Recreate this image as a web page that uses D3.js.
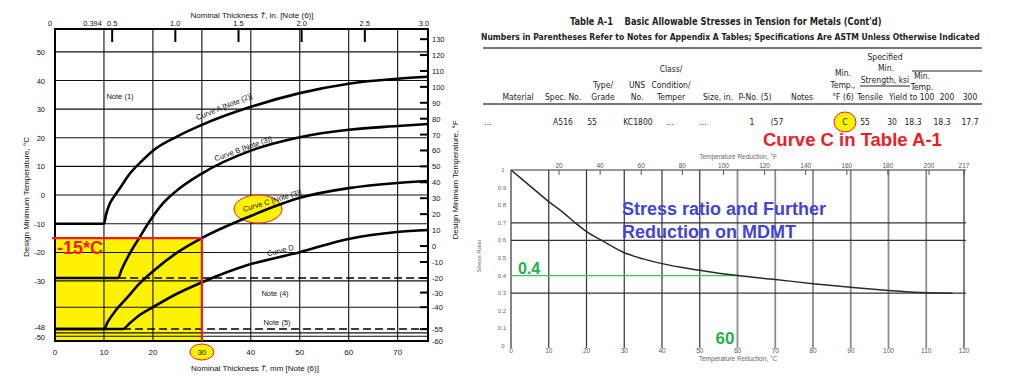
<!DOCTYPE html>
<html>
<head>
<meta charset="utf-8">
<script src="https://d3js.org/d3.v7.min.js"></script>
<style>
  body { margin: 0; background: #fff; }
  text { font-family: 'Liberation Sans', Arial, sans-serif; }
  .tbl { font-family: 'Liberation Sans Narrow', 'Arial Narrow', 'DejaVu Sans Condensed', 'Liberation Sans', sans-serif; fill: #222; }
</style>
</head>
<body>
<svg width=1024 height=378></svg>
<script>
var svg = d3.select('svg')

// ---------- left figure: thickness (mm) vs design min temperature (degC)
var mmTicks = [0, 10, 20, 30, 40, 50, 60, 70]
var inTicks = [0.5, 1.0, 1.5, 2.0, 2.5, 3.0]
var inLabels = ['0.5', '1.0', '1.5', '2.0', '2.5', '3.0']
var cTicks = [50, 40, 30, 20, 10, 0, -10, -20, -30, -48, -50]
var fTicks = [130, 120, 110, 100, 90, 80, 70, 60, 50, 40, 30, 20, 10, 0, -10, -20, -30, -40, -55, -60]
var gridC = [50, 40, 30, 20, 10, 0, -10, -20, -30, -40, -49.2, -50]
var gridMm = [10, 20, 30, 40, 50, 60, 70]

var curveA = [[0, -10], [10, -10], [10.4, -7], [11.2, -3], [12.3, 0], [13.5, 3], [15.3, 7.5], [17.5, 11.5], [20, 15.5], [25, 20.5], [30, 24.5], [40, 30.8], [50, 35.6], [60, 38.9], [70, 40.6], [76.2, 41.3]]
var curveB = [[0, -28.9], [12.9, -28.9], [13.6, -26], [15.3, -20.3], [17.3, -14.7], [19.4, -9], [22, -3], [24.5, 1], [30, 7.5], [40, 15.5], [50, 20.2], [60, 22.8], [70, 24.1], [76.2, 24.8]]
var curveC = [[0, -48.3], [10, -48.3], [10.8, -45.5], [12.5, -41], [14.7, -36.5], [17, -31.5], [20.4, -26], [25, -20], [30, -15], [40, -7.3], [50, -1], [60, 2.4], [70, 4.2], [76.2, 4.9]]
var curveD = [[0, -48.3], [13.9, -48.3], [15.2, -46.2], [17.3, -43], [20, -40], [25, -34.8], [30.2, -30.4], [39.2, -24.5], [50, -19.9], [60.2, -15.2], [69.8, -12.9], [76.2, -12.2]]
var dashB = [[12.9, -28.9], [76.2, -28.9]]
var dashD = [[13.9, -48.3], [76.2, -48.3]]
var markMm = 30, markC = -15

var xL = d3.scaleLinear().domain([0, 76.2]).range([55, 428])
var xIn = d3.scaleLinear().domain([0, 3]).range([49, 428])
var yL = d3.scaleLinear().domain([-51.1, -48.3, -28.9, 0, 58]).range([341, 329, 278, 195, 29])
function f2c(f) { return (f - 32) / 1.8 }

var L = svg.append('g')

  //yellow area below -15 C up to 30 mm
  L.append('rect')
    .attr('x', xL(0)).attr('y', yL(markC))
    .attr('width', xL(markMm) - xL(0)).attr('height', yL(-51.1) - yL(markC))
    .attr('fill', '#fff200')

  //grid
  L.selectAll('.gh').data(gridC).enter().append('line')
    .attr('x1', xL(0)).attr('x2', xL(76.2))
    .attr('y1', d => yL(d)).attr('y2', d => yL(d))
    .attr('stroke', '#111').attr('stroke-width', 1.1)
  L.selectAll('.gv').data(gridMm).enter().append('line')
    .attr('x1', d => xL(d)).attr('x2', d => xL(d))
    .attr('y1', yL(58)).attr('y2', yL(-51.1))
    .attr('stroke', '#111').attr('stroke-width', 1.1)

  //frame
  L.append('rect')
    .attr('x', xL(0)).attr('y', yL(58))
    .attr('width', xL(76.2) - xL(0)).attr('height', yL(-51.1) - yL(58))
    .attr('fill', 'none').attr('stroke', '#000').attr('stroke-width', 2)

  //inch ticks on top, F ticks on right
  L.selectAll('.it').data(inTicks.slice(0, 5)).enter().append('line')
    .attr('x1', d => xIn(d)).attr('x2', d => xIn(d))
    .attr('y1', yL(58)).attr('y2', yL(58) + 13)
    .attr('stroke', '#000').attr('stroke-width', 2)
  L.selectAll('.ft').data(fTicks).enter().append('line')
    .attr('x1', xL(76.2) - 8).attr('x2', xL(76.2))
    .attr('y1', d => yL(f2c(d))).attr('y2', d => yL(f2c(d)))
    .attr('stroke', '#000').attr('stroke-width', 2)

  //curve C highlight ellipse
  L.append('ellipse')
    .attr('cx', 258).attr('cy', 209).attr('rx', 24).attr('ry', 14)
    .attr('fill', '#fff200').attr('stroke', '#ee1c25').attr('stroke-width', 1)

  //curves
var lineL = d3.line().x(d => xL(d[0])).y(d => yL(d[1])).curve(d3.curveMonotoneX)
  L.selectAll('.crv').data([curveA, curveB, curveC, curveD]).enter().append('path')
    .attr('d', lineL).attr('fill', 'none')
    .attr('stroke', '#000').attr('stroke-width', 2.6)
  L.selectAll('.dsh').data([dashB, dashD]).enter().append('path')
    .attr('d', lineL).attr('fill', 'none')
    .attr('stroke', '#000').attr('stroke-width', 1.3).attr('stroke-dasharray', '8,4')

  //red marker lines
  L.append('line')
    .attr('x1', xL(0) - 3).attr('x2', xL(markMm))
    .attr('y1', yL(markC)).attr('y2', yL(markC))
    .attr('stroke', '#ee1c25').attr('stroke-width', 2.2)
  L.append('line')
    .attr('x1', xL(markMm)).attr('x2', xL(markMm))
    .attr('y1', yL(markC)).attr('y2', yL(-51.1))
    .attr('stroke', '#ee1c25').attr('stroke-width', 2.2)
  L.append('text')
    .attr('x', 57).attr('y', yL(markC) + 16)
    .attr('font-size', 18).attr('font-weight', 'bold').attr('fill', '#ee1c25')
    .text('-15*C')

  //ellipse around 30
  L.append('ellipse')
    .attr('cx', xL(markMm)).attr('cy', 352).attr('rx', 12).attr('ry', 8)
    .attr('fill', '#fff200').attr('stroke', '#ee1c25').attr('stroke-width', 1)

  //tick labels
  L.selectAll('.bl').data(mmTicks).enter().append('text')
    .attr('x', d => xL(d)).attr('y', 355)
    .attr('text-anchor', 'middle').attr('font-size', 8).attr('fill', '#111')
    .text(d => d)

  L.selectAll('.tl').data(inTicks).enter().append('text')
    .attr('x', d => xIn(d) - (d == 3 ? 4 : 0)).attr('y', 26)
    .attr('text-anchor', 'middle').attr('font-size', 7.5).attr('fill', '#111')
    .text((d, i) => inLabels[i])
  L.append('text').attr('x', xIn(0) + 1).attr('y', 26)
    .attr('text-anchor', 'middle').attr('font-size', 7.5).attr('fill', '#111').text('0')
  L.append('text').attr('x', xL(10) - 2).attr('y', 26)
    .attr('text-anchor', 'end').attr('font-size', 7.5).attr('fill', '#111').text('0.394')

  L.selectAll('.cl').data(cTicks).enter().append('text')
    .attr('x', 45).attr('y', d => yL(d) + 3 + (d == -48 ? -1.5 : 0) + (d == -50 ? 0.5 : 0))
    .attr('text-anchor', 'end').attr('font-size', 7.5).attr('fill', '#111')
    .text(d => d)
  L.selectAll('.fl').data(fTicks).enter().append('text')
    .attr('x', 432).attr('y', d => yL(f2c(d)) + 3)
    .attr('font-size', 7.5).attr('fill', '#111')
    .text(d => d)

  //axis titles
  L.append('text').attr('x', 255).attr('y', 371)
    .attr('text-anchor', 'middle').attr('font-size', 8).attr('fill', '#111')
    .html('Nominal Thickness <tspan font-style="italic">T\u0304</tspan>, mm [Note (6)]')
  L.append('text').attr('x', 252).attr('y', 18)
    .attr('text-anchor', 'middle').attr('font-size', 8).attr('fill', '#111')
    .html('Nominal Thickness <tspan font-style="italic">T\u0304</tspan>, in. [Note (6)]')
  L.append('text').attr('transform', 'translate(29,197) rotate(-90)')
    .attr('text-anchor', 'middle').attr('font-size', 8).attr('fill', '#111')
    .text('Design Minimum Temperature, \u00b0C')
  L.append('text').attr('transform', 'translate(458,180) rotate(-90)')
    .attr('text-anchor', 'middle').attr('font-size', 8).attr('fill', '#111')
    .text('Design Minimum Temperature, \u00b0F')

  //notes and curve labels
var notes = [['Note (1)', 120, 99, 0], ['Note (4)', 275, 296, 0], ['Note (5)', 277, 325, 0],
             ['Curve A [Note (2)]', 225, 109, -22], ['Curve B [Note (3)]', 244, 151, -20],
             ['Curve C [Note (3)]', 273, 203, -17], ['Curve D', 281, 253, -14]]
  L.selectAll('.nt').data(notes).enter().append('text')
    .attr('transform', d => 'translate(' + d[1] + ',' + d[2] + ') rotate(' + d[3] + ')')
    .attr('text-anchor', 'middle').attr('font-size', 7.5).attr('fill', '#111')
    .text(d => d[0])

// ---------- Table A-1 extract
var T = svg.append('g')

// condensed title lines: measure, then squeeze horizontally to the target width
function squeezed(str, x, y, size, width) {
  var t = T.append('text').attr('class', 'tbl')
    .attr('font-size', size).attr('font-weight', 'bold')
    .attr('xml:space', 'preserve')
    .text(str)
  var w = t.node().getComputedTextLength()
  t.attr('transform', 'translate(' + x + ',' + y + ') scale(' + (width / w) + ',1)')
}
  squeezed("Table A-1    Basic Allowable Stresses in Tension for Metals (Cont'd)", 570, 25, 10.5, 312)
  squeezed('Numbers in Parentheses Refer to Notes for Appendix A Tables; Specifications Are ASTM Unless Otherwise Indicated', 481, 40, 9, 499)

  T.append('line').attr('x1', 483).attr('x2', 982).attr('y1', 48).attr('y2', 48)
    .attr('stroke', '#777').attr('stroke-width', 2)
  T.append('line').attr('x1', 483).attr('x2', 982).attr('y1', 104).attr('y2', 104)
    .attr('stroke', '#777').attr('stroke-width', 2)
  T.append('line').attr('x1', 912).attr('x2', 982).attr('y1', 71).attr('y2', 71)
    .attr('stroke', '#222').attr('stroke-width', 1)
  T.append('line').attr('x1', 860).attr('x2', 910).attr('y1', 86).attr('y2', 86)
    .attr('stroke', '#222').attr('stroke-width', 1)

var headers = [['Material'], ['Spec. No.'], ['Type/', 'Grade'], ['UNS', 'No.'], ['Class/', 'Condition/', 'Temper'],
               ['Size, in.'], ['P-No. (5)'], ['Notes'], ['Min.', 'Temp.,', '\u00b0F (6)'], ['Tensile'], ['Yield'],
               ['Min.', 'Temp.', 'to 100'], ['200'], ['300']]
var headerX = [518, 563, 603, 637, 671, 718, 755, 802, 843, 870, 898, 922, 947, 970]
var rowVals = ['...', 'A516', '55', 'KC1800', '...', '...', '1', '(57', 'C', '55', '30', '18.3', '18.3', '17.7']
var rowX = [488, 563, 592, 638, 670, 703, 752, 777, 845, 865, 892, 913, 942, 970]

  headers.forEach(function(h, i) {
    var gap = (i == 11) ? 10.5 : 12
    h.forEach(function(s, j) {
      T.append('text').attr('class', 'tbl')
        .attr('x', headerX[i]).attr('y', 100 - (h.length - 1 - j) * gap - (s == 'Class/' ? 4 : 0))
        .attr('text-anchor', 'middle').attr('font-size', 8.5)
        .text(s)
    })
  })
  T.append('text').attr('class', 'tbl').attr('x', 885).attr('y', 60)
    .attr('text-anchor', 'middle').attr('font-size', 8.5).text('Specified')
  T.append('text').attr('class', 'tbl').attr('x', 886).attr('y', 71)
    .attr('text-anchor', 'middle').attr('font-size', 8.5).text('Min.')
  T.append('text').attr('class', 'tbl').attr('x', 885).attr('y', 82.5)
    .attr('text-anchor', 'middle').attr('font-size', 8.5).text('Strength, ksi')

  T.append('ellipse').attr('cx', 845).attr('cy', 122).attr('rx', 11).attr('ry', 10)
    .attr('fill', '#fff200').attr('stroke', '#ee1c25').attr('stroke-width', 1)
  T.selectAll('.rv').data(rowVals).enter().append('text')
    .attr('class', 'tbl')
    .attr('x', (d, i) => rowX[i]).attr('y', 125)
    .attr('text-anchor', 'middle').attr('font-size', 8.5)
    .text(d => d)

  svg.append('text').attr('x', 763).attr('y', 146)
    .attr('font-size', 18.5).attr('font-weight', 'bold').attr('fill', '#ee1c25')
    .text('Curve C in Table A-1')

// ---------- right figure: stress ratio vs temperature reduction
var redC = [0, 10, 20, 30, 40, 50, 60, 70, 80, 90, 100, 110, 120]
var redF = [20, 40, 60, 80, 100, 120, 140, 160, 180, 200, 217]
var ratioTicks = [1, 0.9, 0.8, 0.7, 0.6, 0.5, 0.4, 0.3, 0.2, 0.1, 0]
var ratioGrid = [1, 0.7, 0.6, 0.3]
var stress = [[0, 1], [5, 0.91], [10, 0.82], [14, 0.755], [17, 0.70], [20, 0.65], [24, 0.60], [30, 0.53],
              [35, 0.495], [40, 0.468], [45, 0.447], [50, 0.43], [55, 0.414], [60, 0.40], [70, 0.378],
              [80, 0.354], [90, 0.334], [100, 0.316], [110, 0.302], [117, 0.30]]
var mdmtC = 60, mdmtRatio = 0.4

var xR = d3.scaleLinear().domain([0, 120]).range([511, 964])
var xRF = d3.scaleLinear().domain([20, 217]).range([559, 964])
var yR = d3.scaleLinear().domain([0, 1]).range([346, 170])

var R = svg.append('g')
  R.selectAll('.rv').data(redC).enter().append('line')
    .attr('x1', d => xR(d)).attr('x2', d => xR(d))
    .attr('y1', yR(1)).attr('y2', yR(0) + 2)
    .attr('stroke', d => (d >= 60 && d <= 110) ? '#8c8c8c' : '#333')
    .attr('stroke-width', d => (d >= 60 && d <= 110) ? 1.8 : 1.2)
  R.selectAll('.rh').data(ratioGrid).enter().append('line')
    .attr('x1', xR(0)).attr('x2', xR(120) + 2)
    .attr('y1', d => yR(d)).attr('y2', d => yR(d))
    .attr('stroke', '#333').attr('stroke-width', 1.2)
  R.selectAll('.rt').data(redF).enter().append('line')
    .attr('x1', d => xRF(d)).attr('x2', d => xRF(d))
    .attr('y1', yR(1)).attr('y2', yR(1) + 5)
    .attr('stroke', '#555').attr('stroke-width', 1)

  R.append('line')
    .attr('x1', xR(0)).attr('x2', xR(mdmtC))
    .attr('y1', yR(mdmtRatio)).attr('y2', yR(mdmtRatio))
    .attr('stroke', '#3cc35a').attr('stroke-width', 1.3)

var lineR = d3.line().x(d => xR(d[0])).y(d => yR(d[1])).curve(d3.curveMonotoneX)
  R.append('path').attr('d', lineR(stress))
    .attr('fill', 'none').attr('stroke', '#2a2a2a').attr('stroke-width', 1.5)

  R.selectAll('.rxl').data(redC).enter().append('text')
    .attr('x', d => xR(d)).attr('y', 353)
    .attr('text-anchor', 'middle').attr('font-size', 6.5).attr('fill', '#555')
    .text(d => d)
  R.selectAll('.rfl').data(redF).enter().append('text')
    .attr('x', d => xRF(d)).attr('y', 168)
    .attr('text-anchor', 'middle').attr('font-size', 6.5).attr('fill', '#555')
    .text(d => d)
  R.selectAll('.ryl').data(ratioTicks).enter().append('text')
    .attr('x', d => (d == 1 || d == 0) ? 503 : 506).attr('y', d => yR(d) + 2)
    .attr('text-anchor', d => (d == 1 || d == 0) ? 'middle' : 'end')
    .attr('font-size', 6).attr('fill', '#666')
    .text(d => d)
  R.append('text').attr('x', 738).attr('y', 159)
    .attr('text-anchor', 'middle').attr('font-size', 6.5).attr('fill', '#666')
    .text('Temperature Reduction, \u00b0F')
  R.append('text').attr('x', 738).attr('y', 361)
    .attr('text-anchor', 'middle').attr('font-size', 6.5).attr('fill', '#666')
    .text('Temperature Reduction, \u00b0C')
  R.append('text').attr('transform', 'translate(481,256) rotate(-90)')
    .attr('text-anchor', 'middle').attr('font-size', 6).attr('fill', '#666')
    .text('Stress Ratio')

  R.append('text').attr('x', 622).attr('y', 215)
    .attr('font-size', 18).attr('font-weight', 'bold').attr('fill', '#4444d4')
    .text('Stress ratio and Further')
  R.append('text').attr('x', 622).attr('y', 238)
    .attr('font-size', 18).attr('font-weight', 'bold').attr('fill', '#4444d4')
    .text('Reduction on MDMT')
  R.append('text').attr('x', 518).attr('y', 274)
    .attr('font-size', 16).attr('font-weight', 'bold').attr('fill', '#22b04a')
    .text(mdmtRatio)
  R.append('text').attr('x', xR(mdmtC) - 3).attr('y', 344)
    .attr('text-anchor', 'end').attr('font-size', 17).attr('font-weight', 'bold').attr('fill', '#22b04a')
    .text(mdmtC)
</script>
</body>
</html>
